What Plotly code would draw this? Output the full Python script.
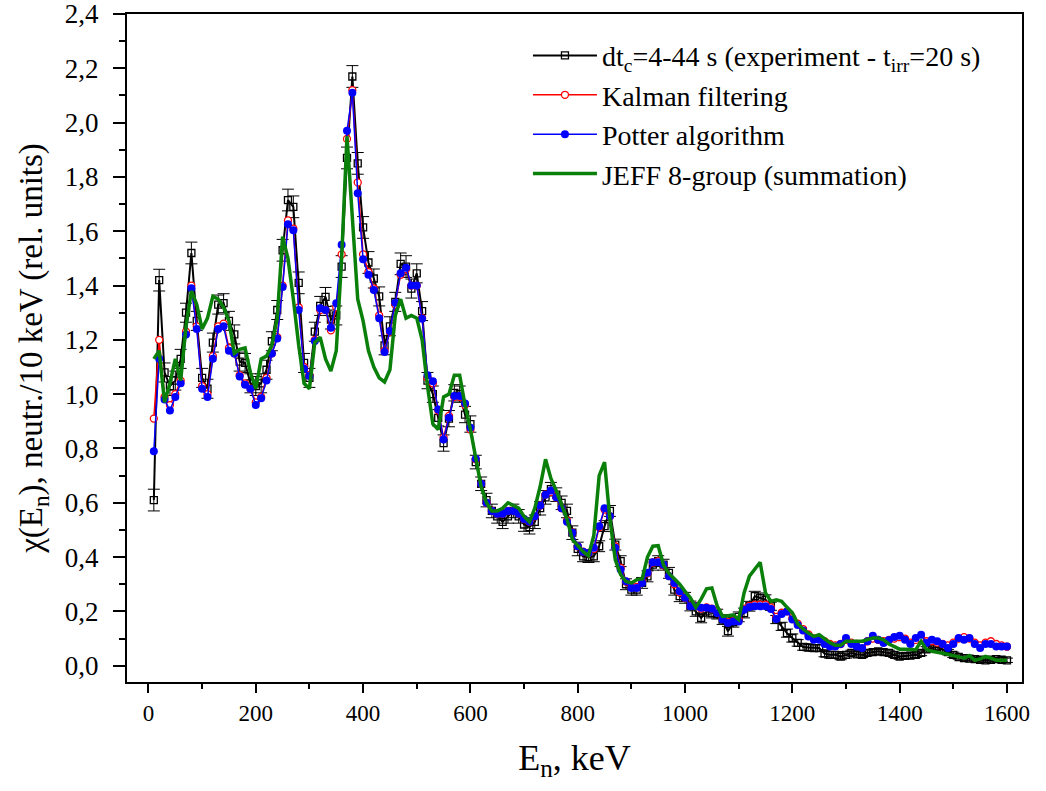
import plotly.graph_objects as go

energy_keV = list(range(10, 1610, 10))

exp_chi = [
    0.61, 1.42, 1.08, 1.03, 1.05, 1.13, 1.30, 1.52, 1.27, 1.06,
    1.02, 1.19, 1.33, 1.335, 1.27, 1.22, 1.12, 1.115, 1.04, 1.03,
    1.04, 1.09, 1.195, 1.31, 1.53, 1.715, 1.69, 1.41, 1.115, 1.06,
    1.23, 1.325, 1.358, 1.275, 1.29, 1.47, 1.87, 2.17, 1.85, 1.614,
    1.485, 1.426, 1.36, 1.18, 1.25, 1.34, 1.48, 1.47, 1.389, 1.445,
    1.306, 1.05, 1.00, 0.913, 0.82, 0.91, 1.005, 1.00, 0.925, 0.89,
    0.75, 0.67, 0.61, 0.57, 0.55, 0.53, 0.55, 0.57, 0.55, 0.52,
    0.51, 0.53, 0.58, 0.62, 0.65, 0.63, 0.60, 0.57, 0.49, 0.43,
    0.403, 0.40, 0.403, 0.44, 0.514, 0.57, 0.446, 0.385, 0.30, 0.28,
    0.28, 0.305, 0.329, 0.372, 0.385, 0.372, 0.342, 0.28, 0.256, 0.25,
    0.22, 0.20, 0.176, 0.20, 0.194, 0.19, 0.17, 0.127, 0.16, 0.18,
    0.194, 0.219, 0.256, 0.25, 0.243, 0.219, 0.17, 0.145, 0.12, 0.102,
    0.084, 0.069, 0.067, 0.065, 0.065, 0.045, 0.04, 0.04, 0.034, 0.04,
    0.047, 0.042, 0.04, 0.047, 0.05, 0.053, 0.05, 0.047, 0.04, 0.034,
    0.036, 0.037, 0.04, 0.047, 0.06, 0.065, 0.069, 0.06, 0.05, 0.04,
    0.032, 0.028, 0.026, 0.024, 0.022, 0.02, 0.022, 0.024, 0.022, 0.02,
]

exp_err = [
    0.04, 0.04, 0.035, 0.035, 0.035, 0.035, 0.035, 0.04, 0.035, 0.035,
    0.035, 0.035, 0.035, 0.035, 0.035, 0.035, 0.035, 0.035, 0.035, 0.035,
    0.035, 0.035, 0.035, 0.035, 0.04, 0.04, 0.04, 0.04, 0.035, 0.035,
    0.035, 0.035, 0.035, 0.035, 0.035, 0.04, 0.04, 0.04, 0.04, 0.04,
    0.04, 0.035, 0.035, 0.035, 0.035, 0.035, 0.04, 0.04, 0.035, 0.035,
    0.035, 0.03, 0.03, 0.03, 0.03, 0.03, 0.03, 0.03, 0.03, 0.03,
    0.025, 0.025, 0.025, 0.025, 0.025, 0.025, 0.025, 0.025, 0.025, 0.025,
    0.025, 0.025, 0.025, 0.025, 0.025, 0.025, 0.025, 0.025, 0.025, 0.025,
    0.02, 0.02, 0.02, 0.02, 0.02, 0.02, 0.02, 0.02, 0.02, 0.02,
    0.02, 0.02, 0.02, 0.02, 0.02, 0.02, 0.02, 0.02, 0.02, 0.02,
    0.018, 0.018, 0.018, 0.018, 0.018, 0.018, 0.018, 0.018, 0.018, 0.018,
    0.018, 0.018, 0.018, 0.018, 0.018, 0.015, 0.015, 0.015, 0.015, 0.015,
    0.012, 0.012, 0.012, 0.012, 0.012, 0.012, 0.012, 0.012, 0.012, 0.012,
    0.01, 0.01, 0.01, 0.01, 0.01, 0.01, 0.01, 0.01, 0.01, 0.01,
    0.01, 0.01, 0.01, 0.01, 0.01, 0.01, 0.01, 0.01, 0.01, 0.01,
    0.008, 0.008, 0.008, 0.008, 0.008, 0.008, 0.008, 0.008, 0.008, 0.008,
]

kalman_chi = [
    0.91, 1.20, 0.99, 0.96, 1.00, 1.05, 1.23, 1.40, 1.25, 1.03,
    1.00, 1.14, 1.25, 1.26, 1.17, 1.15, 1.07, 1.04, 1.02, 0.97,
    0.99, 1.06, 1.15, 1.21, 1.40, 1.64, 1.61, 1.32, 1.10, 1.07,
    1.20, 1.31, 1.31, 1.235, 1.32, 1.515, 1.94, 2.12, 1.78, 1.515,
    1.45, 1.39, 1.29, 1.16, 1.23, 1.33, 1.44, 1.46, 1.40, 1.40,
    1.28, 1.06, 1.04, 0.94, 0.84, 0.92, 0.99, 0.99, 0.96, 0.87,
    0.76, 0.67, 0.60, 0.57, 0.56, 0.56, 0.57, 0.57, 0.56, 0.54,
    0.53, 0.55, 0.59, 0.63, 0.64, 0.62, 0.58, 0.535, 0.49, 0.44,
    0.42, 0.415, 0.43, 0.51, 0.575, 0.55, 0.44, 0.36, 0.31, 0.29,
    0.29, 0.31, 0.34, 0.38, 0.385, 0.37, 0.33, 0.30, 0.27, 0.25,
    0.22, 0.22, 0.21, 0.215, 0.21, 0.20, 0.175, 0.16, 0.165, 0.17,
    0.21, 0.22, 0.225, 0.225, 0.225, 0.215, 0.18, 0.195, 0.20, 0.175,
    0.155, 0.135, 0.115, 0.10, 0.10, 0.09, 0.08, 0.075, 0.08, 0.095,
    0.085, 0.08, 0.075, 0.09, 0.10, 0.095, 0.09, 0.095, 0.10, 0.105,
    0.10, 0.085, 0.095, 0.10, 0.09, 0.09, 0.085, 0.08, 0.075, 0.085,
    0.10, 0.105, 0.10, 0.085, 0.075, 0.085, 0.09, 0.08, 0.075, 0.07,
]

potter_chi = [
    0.79, 1.13, 0.98, 0.94, 0.99, 1.04, 1.22, 1.39, 1.24, 1.02,
    0.99, 1.13, 1.24, 1.25, 1.16, 1.15, 1.065, 1.035, 1.02, 0.96,
    0.985, 1.05, 1.15, 1.205, 1.395, 1.626, 1.604, 1.31, 1.094, 1.067,
    1.196, 1.316, 1.31, 1.245, 1.335, 1.55, 1.97, 2.11, 1.74, 1.497,
    1.44, 1.384, 1.28, 1.155, 1.233, 1.337, 1.445, 1.466, 1.40, 1.40,
    1.278, 1.07, 1.048, 0.944, 0.833, 0.913, 0.993, 0.993, 0.966, 0.876,
    0.762, 0.67, 0.60, 0.57, 0.56, 0.56, 0.57, 0.57, 0.56, 0.54,
    0.53, 0.55, 0.59, 0.63, 0.645, 0.62, 0.58, 0.53, 0.49, 0.44,
    0.42, 0.415, 0.434, 0.514, 0.58, 0.55, 0.434, 0.354, 0.311, 0.286,
    0.286, 0.305, 0.342, 0.381, 0.381, 0.372, 0.329, 0.305, 0.274, 0.25,
    0.219, 0.219, 0.213, 0.213, 0.21, 0.194, 0.17, 0.157, 0.163, 0.163,
    0.206, 0.216, 0.219, 0.219, 0.219, 0.209, 0.172, 0.19, 0.20, 0.17,
    0.15, 0.13, 0.108, 0.096, 0.096, 0.08, 0.071, 0.071, 0.08, 0.102,
    0.08, 0.071, 0.065, 0.09, 0.11, 0.096, 0.084, 0.095, 0.106, 0.11,
    0.096, 0.08, 0.102, 0.114, 0.084, 0.096, 0.09, 0.08, 0.065, 0.08,
    0.102, 0.096, 0.102, 0.08, 0.065, 0.08, 0.08, 0.071, 0.071, 0.071,
]

jeff_chi = [
    1.13, 1.16, 0.97, 1.04, 1.13, 1.05, 1.25, 1.38, 1.33, 1.24,
    1.28, 1.36, 1.35, 1.32, 1.27, 1.15, 1.165, 1.17, 1.08, 1.02,
    1.13, 1.14, 1.18, 1.28, 1.58, 1.50, 1.35, 1.18, 1.04, 1.02,
    1.19, 1.21, 1.13, 1.085, 1.16, 1.50, 1.95, 1.64, 1.35, 1.27,
    1.16, 1.10, 1.06, 1.045, 1.09, 1.29, 1.35, 1.28, 1.29, 1.28,
    1.20, 1.03, 0.89, 0.87, 0.99, 1.00, 1.07, 1.07, 0.96, 0.87,
    0.77, 0.66, 0.60, 0.57, 0.57, 0.58, 0.60, 0.59, 0.58, 0.55,
    0.53, 0.58, 0.66, 0.76, 0.69, 0.645, 0.59, 0.54, 0.465, 0.44,
    0.42, 0.405, 0.48, 0.70, 0.75, 0.54, 0.39, 0.335, 0.31, 0.305,
    0.317, 0.32, 0.40, 0.44, 0.442, 0.37, 0.34, 0.32, 0.30, 0.274,
    0.25, 0.215, 0.245, 0.283, 0.286, 0.22, 0.182, 0.184, 0.187, 0.17,
    0.268, 0.33, 0.354, 0.381, 0.268, 0.237, 0.243, 0.237, 0.215, 0.195,
    0.155, 0.135, 0.12, 0.108, 0.114, 0.10, 0.085, 0.075, 0.075, 0.09,
    0.09, 0.09, 0.09, 0.096, 0.102, 0.102, 0.095, 0.08, 0.07, 0.061,
    0.061, 0.06, 0.059, 0.09, 0.06, 0.053, 0.05, 0.047, 0.042, 0.037,
    0.032, 0.028, 0.037, 0.02, 0.025, 0.034, 0.028, 0.02, 0.02, 0.02,
]

x_ticks = [0, 200, 400, 600, 800, 1000, 1200, 1400, 1600]
y_ticks = [0.0, 0.2, 0.4, 0.6, 0.8, 1.0, 1.2, 1.4, 1.6, 1.8, 2.0, 2.2, 2.4]

FONT = "Liberation Serif, Times New Roman, Times, serif"

fig = go.Figure()

fig.add_trace(go.Scatter(
    x=energy_keV, y=exp_chi,
    mode="lines+markers",
    name="dt<sub>c</sub>=4-44 s (experiment - t<sub>irr</sub>=20 s)",
    legendgroup="g1",
    line=dict(color="black", width=2),
    marker=dict(symbol="square-open", size=7, color="black", line=dict(width=1.3)),
    error_y=dict(type="data", array=exp_err, visible=True, color="black",
                 thickness=1, width=6),
))

fig.add_trace(go.Scatter(
    x=energy_keV, y=kalman_chi,
    mode="lines+markers",
    name="Kalman filtering",
    legendgroup="g2",
    line=dict(color="red", width=1.5),
    marker=dict(symbol="circle", size=7, color="white", line=dict(color="red", width=1.3)),
))

fig.add_trace(go.Scatter(
    x=energy_keV, y=potter_chi,
    mode="lines+markers",
    name="Potter algorithm",
    legendgroup="g3",
    line=dict(color="blue", width=1.5),
    marker=dict(symbol="circle", size=8, color="blue"),
))

fig.add_trace(go.Scatter(
    x=energy_keV, y=jeff_chi,
    mode="lines",
    name="JEFF 8-group (summation)",
    legendgroup="g4",
    line=dict(color="#0a800a", width=3.5),
))

fig.update_layout(
    width=1046, height=791,
    margin=dict(l=127, r=24, t=14, b=109),
    paper_bgcolor="white", plot_bgcolor="white",
    font=dict(family=FONT, color="black", size=22),
    separators=", ",
    showlegend=True,
    legend=dict(
        x=0.448, y=0.975, xanchor="left", yanchor="top",
        bgcolor="rgba(0,0,0,0)",
        font=dict(family=FONT, size=28, color="black"),
        tracegroupgap=0,
        traceorder="grouped",
        itemwidth=64,
    ),
)

fig.update_xaxes(
    range=[-40, 1628],
    tickvals=x_ticks,
    automargin=False,
    ticks="outside", ticklen=9, tickwidth=2, tickcolor="black",
    minor=dict(dtick=100, tick0=0, ticks="outside", ticklen=5, tickwidth=2, tickcolor="black"),
    showline=True, linewidth=2, linecolor="black", mirror=True,
    showgrid=False, zeroline=False,
    tickfont=dict(family=FONT, size=23),
    title=dict(text="E<sub>n</sub>, keV", font=dict(family=FONT, size=36), standoff=20),
)

fig.update_yaxes(
    range=[-0.06, 2.4001],
    tickvals=y_ticks,
    tickformat=".1f",
    automargin=False,
    ticks="outside", ticklen=12, tickwidth=2, tickcolor="black",
    minor=dict(dtick=0.1, tick0=0, ticks="outside", ticklen=6, tickwidth=2, tickcolor="black"),
    showline=True, linewidth=2, linecolor="black", mirror=True,
    showgrid=False, zeroline=False,
    tickfont=dict(family=FONT, size=27),
    ticklabelstandoff=9,
    ticklabeloverflow="allow",
    title=dict(text="χ(E<sub>n</sub>), neutr./10 keV (rel. units)", font=dict(family=FONT, size=33), standoff=12),
)

fig.write_html("out.html")
